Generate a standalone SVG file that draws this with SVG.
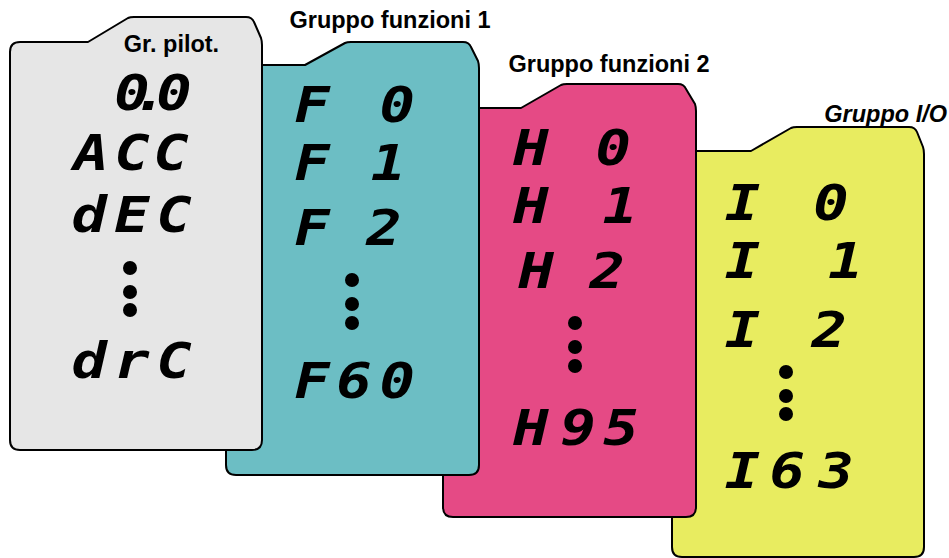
<svg xmlns="http://www.w3.org/2000/svg" width="949" height="558" viewBox="0 0 949 558">
<style>
.card{stroke:#000;stroke-width:2;stroke-linejoin:round}
.title{font-family:"Liberation Sans",Arial,sans-serif;font-weight:bold;font-size:23.5px;fill:#000}
.seg{font-family:"DejaVu Sans Mono","Liberation Mono",monospace;font-style:oblique;font-weight:bold;font-size:49px;fill:#000;white-space:pre}
.dot{fill:#000}
</style>
<rect width="949" height="558" fill="#fff"/>
<g id="card-io">
<path class="card" fill="#e8ec60" d="M672,161 Q672,151 682,151 L751,151 L791,128 Q793,127 797,127 L909,127 Q915,127 917,132 L923,147 Q924,150 924,154 L924,547 Q924,557 914,557 L682,557 Q672,557 672,547 Z"/>
<text class="title" x="947" y="122" text-anchor="end" font-style="italic">Gruppo I/O</text>
<g transform="scale(1.2,1)">
<text class="seg" x="604 640 677.8" y="220">I 0</text>
<text class="seg" x="604 640 690" y="278">I 1</text>
<text class="seg" x="604 640 676.2" y="347">I 2</text>
<text class="seg" x="604 641.2 682" y="488">I63</text>
</g>
<circle class="dot" cx="786" cy="372" r="7"/><circle class="dot" cx="786" cy="396" r="7"/><circle class="dot" cx="786" cy="414" r="7"/>
</g>
<g id="card-f2">
<path class="card" fill="#e54a85" d="M443,118 Q443,108 453,108 L521,108 L561,85 Q563,84 567,84 L678,84 Q684,84 686,89 L695,104 Q696,107 696,111 L696,507 Q696,517 686,517 L453,517 Q443,517 443,507 Z"/>
<text class="title" x="609" y="72" text-anchor="middle">Gruppo funzioni 2</text>
<g transform="scale(1.2,1)">
<text class="seg" x="427.8 460 496.2" y="165">H 0</text>
<text class="seg" x="427.8 460 502" y="223">H 1</text>
<text class="seg" x="432 462 491.2" y="288">H 2</text>
<text class="seg" x="427.8 467 502.8" y="445">H95</text>
</g>
<circle class="dot" cx="575" cy="323" r="7"/><circle class="dot" cx="575" cy="347" r="7"/><circle class="dot" cx="575" cy="366" r="7"/>
</g>
<g id="card-f1">
<path class="card" fill="#6cbec4" d="M226,75 Q226,65 236,65 L305,65 L345,43 Q347,42 351,42 L463,42 Q469,42 471,47 L478,61 Q479,64 479,68 L479,465 Q479,475 469,475 L236,475 Q226,475 226,465 Z"/>
<text class="title" x="390" y="28" text-anchor="middle">Gruppo funzioni 1</text>
<g transform="scale(1.2,1)">
<text class="seg" x="245.3 280.8 316.2" y="122">F 0</text>
<text class="seg" x="245.3 280 309" y="180">F 1</text>
<text class="seg" x="245.3 280 305.3" y="245">F 2</text>
<text class="seg" x="245.3 280.3 316.2" y="398">F60</text>
</g>
<circle class="dot" cx="352" cy="280" r="7"/><circle class="dot" cx="352" cy="304" r="7"/><circle class="dot" cx="352" cy="323" r="7"/>
</g>
<g id="card-pilot">
<path class="card" fill="#e6e6e6" d="M10,52 Q10,42 20,42 L88,42 L128,18 Q130,17 134,17 L246,17 Q252,17 254,22 L261,38 Q262,41 262,45 L262,440 Q262,450 252,450 L20,450 Q10,450 10,440 Z"/>
<text class="title" x="171.5" y="52" text-anchor="middle">Gr. pilot.</text>
<g transform="scale(1.2,1)">
<text class="seg" x="95.3 110.3 130.3" y="110">0.0</text>
<text class="seg" x="61.2 95.3 127.8" y="170">ACC</text>
<text class="seg" x="59.5 95.3 130.3" y="232">dEC</text>
<text class="seg" x="59.5 95.3 130.3" y="378">drC</text>
</g>
<circle class="dot" cx="130" cy="268" r="7"/><circle class="dot" cx="130" cy="292" r="7"/><circle class="dot" cx="130" cy="310" r="7"/>
</g>
</svg>
